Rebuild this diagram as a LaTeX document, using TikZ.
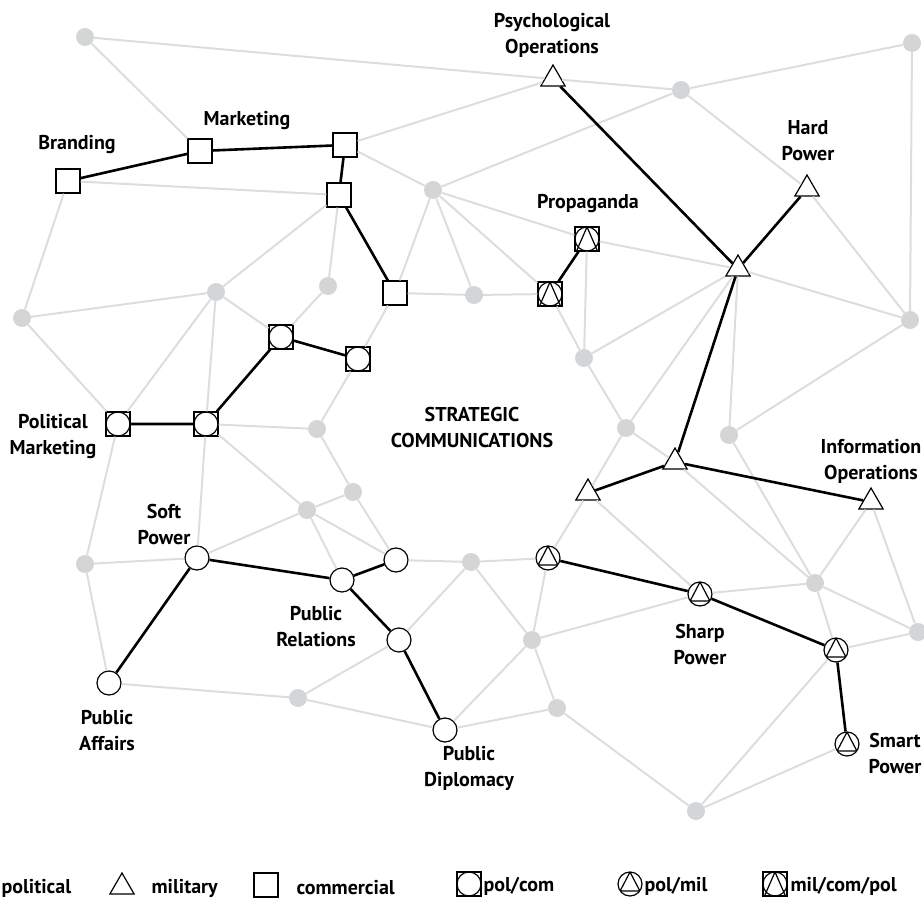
\documentclass[tikz,border=0pt]{standalone}
\usepackage{fontspec}
\setmainfont{PT Sans}
\usepackage{tikz}
\usetikzlibrary{shapes.geometric}
\definecolor{netgrey}{RGB}{220,221,223}
\definecolor{dotgrey}{RGB}{212,213,215}
\newcommand{\symsize}{24pt}
\newcommand{\symrad}{12pt}
\tikzset{
    tag/.style={font=\fontsize{20}{26}\selectfont\bfseries, align=center},
    sym/.style={draw, fill=white, line width=1.2pt, inner sep=0pt},
    sq/.style={sym, rectangle, minimum size=\symsize},
    ci/.style={sym, circle, minimum size=\symsize},
    tri/.style={sym, regular polygon, regular polygon sides=3, minimum size=28pt},
    pc/.style={sq, path picture={
            \draw[line width=1.2pt] (path picture bounding box.center) circle (\symrad);
        }},
    pm/.style={ci, path picture={
            \draw[line width=1.2pt, shift={(path picture bounding box.center)}]
                (90:\symrad) -- (215:\symrad) -- (325:\symrad) -- cycle
                (-\symrad,-6.9pt) -- (\symrad,-6.9pt);
        }},
    mcp/.style={sq, path picture={
            \draw[line width=1.2pt, shift={(path picture bounding box.center)}]
                (0,0) circle (\symrad)
                (0,\symrad) -- (-10.5pt,-\symrad) -- (10.5pt,-\symrad) -- cycle;
        }},
    dot/.style={circle, fill=dotgrey, minimum size=18pt, inner sep=0pt},
    net/.style={netgrey, line width=2pt},
    link/.style={black, line width=2.6pt}
}

\begin{document}
\begin{tikzpicture}[x=1pt, y=-1pt]
    \useasboundingbox (0,0) rectangle (924,912);

    \node[dot] (d1) at (85,37) {};
    \node[dot] (d2) at (681,90) {};
    \node[dot] (d3) at (912,43) {};
    \node[dot] (d4) at (433,190) {};
    \node[dot] (d5) at (216,292) {};
    \node[dot] (d6) at (328,286) {};
    \node[dot] (d7) at (22,318) {};
    \node[dot] (d8) at (474,295) {};
    \node[dot] (d9) at (584,358) {};
    \node[dot] (d10) at (910,320) {};
    \node[dot] (d11) at (317,429) {};
    \node[dot] (d12) at (626,428) {};
    \node[dot] (d13) at (729,435) {};
    \node[dot] (d14) at (353,492) {};
    \node[dot] (d15) at (307,510) {};
    \node[dot] (d16) at (85,564) {};
    \node[dot] (d17) at (471,562) {};
    \node[dot] (d18) at (815,583) {};
    \node[dot] (d19) at (532,640) {};
    \node[dot] (d20) at (918,632) {};
    \node[dot] (d21) at (557,708) {};
    \node[dot] (d22) at (298,698) {};
    \node[dot] (d23) at (696,811) {};

    \node[sq] (branding) at (68,181) {};
    \node[sq] (marketing) at (200,151) {};
    \node[sq] (mkt-a) at (345,145) {};
    \node[sq] (mkt-b) at (339,195) {};
    \node[sq] (mkt-c) at (395,293) {};
    \node[pc] (polmkt) at (118,424) {};
    \node[pc] (pc-a) at (206,424) {};
    \node[pc] (pc-b) at (281,337) {};
    \node[pc] (pc-c) at (358,359) {};
    \node[mcp] (prop-a) at (587,239) {};
    \node[mcp] (prop-b) at (550,294) {};
    \node[tri] (psyops) at (553,79) {};
    \node[tri] (hard) at (807,189) {};
    \node[tri] (hub) at (738,269) {};
    \node[tri] (mil-a) at (675,462) {};
    \node[tri] (mil-b) at (588,493) {};
    \node[tri] (infoops) at (871,502) {};
    \node[pm] (pm-a) at (548,558) {};
    \node[pm] (sharp) at (700,594) {};
    \node[pm] (pm-b) at (836,650) {};
    \node[pm] (smart) at (847,744) {};
    \node[ci] (soft) at (197,558) {};
    \node[ci] (pubrel) at (342,580) {};
    \node[ci] (pol-a) at (396,560) {};
    \node[ci] (pol-b) at (399,640) {};
    \node[ci] (pubaff) at (109,683) {};
    \node[ci] (pubdip) at (445,730) {};

    \draw[net]
        (d1) -- (psyops) (psyops) -- (d2) (d2) -- (d3) (d3) -- (d10)
        (d2) -- (hard) (hard) -- (d10) (d2) -- (d4) (mkt-a) -- (psyops)
        (d4) -- (prop-a) (prop-a) -- (hub) (d4) -- (prop-b) (d8) -- (prop-b)
        (prop-a) -- (d9) (prop-b) -- (d9) (d9) -- (hub) (d9) -- (d12)
        (hub) -- (d12) (hub) -- (d13) (hub) -- (d10) (d10) -- (d13)
        (d12) -- (mil-b) (d12) -- (mil-a) (d13) -- (d18) (mil-a) -- (d18)
        (infoops) -- (d18) (infoops) -- (d20) (d18) -- (d20) (d18) -- (sharp)
        (d18) -- (pm-b) (mil-b) -- (sharp) (d19) -- (sharp) (pm-b) -- (d20)
        (pm-b) -- (d23) (smart) -- (d23) (d21) -- (d23) (d19) -- (d21)
        (d19) -- (pm-a) (d17) -- (d19) (d17) -- (pm-a) (pm-a) -- (mil-b)
        (d19) -- (pubdip) (d21) -- (pubdip) (pol-a) -- (d17) (pol-b) -- (d17)
        (pol-b) -- (d22) (d22) -- (pubdip) (d22) -- (pubaff)
        (d15) -- (d14) (d15) -- (pubrel) (d15) -- (pol-a) (d15) -- (soft)
        (d15) -- (pc-a) (d14) -- (pol-a) (d14) -- (d11) (d11) -- (pc-a)
        (d11) -- (pc-c) (pc-c) -- (mkt-c) (mkt-c) -- (d4) (mkt-c) -- (d8)
        (d8) -- (d4) (mkt-a) -- (d4) (branding) -- (mkt-b) (mkt-b) -- (d5)
        (mkt-b) -- (d6) (d6) -- (pc-b) (d5) -- (pc-b) (d5) -- (d7)
        (d5) -- (polmkt) (d5) -- (pc-a) (d7) -- (polmkt) (d7) -- (branding)
        (marketing) -- (d1) (polmkt) -- (d16) (pc-a) -- (soft) (d16) -- (soft)
        (d16) -- (pubaff);

    \draw[link]
        (branding) -- (marketing) (marketing) -- (mkt-a) (mkt-a) -- (mkt-b) (mkt-b) -- (mkt-c)
        (polmkt) -- (pc-a) (pc-a) -- (pc-b) (pc-b) -- (pc-c)
        (prop-a) -- (prop-b)
        (psyops) -- (hub) (hard) -- (hub) (hub) -- (mil-a) (mil-a) -- (mil-b) (mil-a) -- (infoops)
        (pm-a) -- (sharp) (sharp) -- (pm-b) (pm-b) -- (smart)
        (soft) -- (pubaff) (soft) -- (pubrel) (pubrel) -- (pol-a) (pubrel) -- (pol-b) (pol-b) -- (pubdip);

    \node[tag] at (552,35) {Psychological\\Operations};
    \node[tag] at (247,121) {Marketing};
    \node[tag] at (77,145) {Branding};
    \node[tag] at (808,141) {Hard\\Power};
    \node[tag] at (588,204) {Propaganda};
    \node[tag] at (472,427) {STRATEGIC\\COMMUNICATIONS};
    \node[tag] at (53,437) {Political\\Marketing};
    \node[tag] at (164,524) {Soft\\Power};
    \node[tag] at (316,627) {Public\\Relations};
    \node[tag] at (107,731) {Public\\Affairs};
    \node[tag] at (469,768) {Public\\Diplomacy};
    \node[tag] at (700,644) {Sharp\\Power};
    \node[tag] at (895,753) {Smart\\Power};
    \node[tag] at (871,461) {Information\\Operations};

    \node[tag, anchor=west] (key-pol) at (-2,888) {political};
    \node[tri] (key-tri) at (122,887) {};
    \node[tag, anchor=west] (key-mil) at (148,888) {military};
    \node[sq] (key-sq) at (266,885) {};
    \node[tag, anchor=west] (key-com) at (293,888) {commercial};
    \node[pc] (key-pc) at (469,884) {};
    \node[tag, anchor=west] (key-polcom) at (480,886) {pol/com};
    \node[pm] (key-pm) at (630,884) {};
    \node[tag, anchor=west] (key-polmil) at (641,886) {pol/mil};
    \node[mcp] (key-mcp) at (775,884) {};
    \node[tag, anchor=west] (key-mcp-txt) at (787,886) {mil/com/pol};
\end{tikzpicture}
\end{document}
